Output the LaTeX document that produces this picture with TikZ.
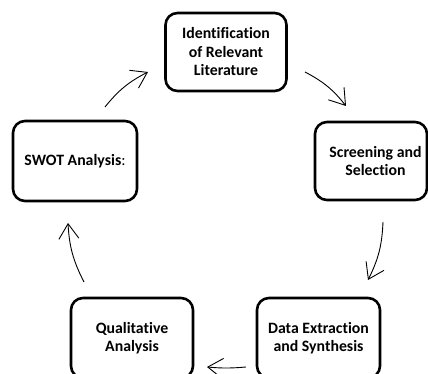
\documentclass[tikz,border=0pt]{standalone}
\usepackage{fontspec}
\setmainfont{Carlito}[Ligatures=NoCommon]
\usetikzlibrary{arrows.meta}
\tikzset{
  stage/.style={draw, line width=2.6pt, rounded corners=12pt, align=center,
    font=\fontsize{15.8}{18.5}\selectfont\bfseries, inner sep=0pt},
  cyc/.style={line width=0.9pt, -{Straight Barb[length=15pt,width=20pt,line width=0.9pt]}},
}
\begin{document}
\begin{tikzpicture}[x=1pt,y=1pt]
\useasboundingbox (0,0) rectangle (428,374);
\clip (0,0) rectangle (428,374);
\node[stage, minimum width=121pt, minimum height=78pt] (lit) at (226,322) {Identification\\of Relevant\\Literature};
\node[stage, minimum width=112pt, minimum height=78pt] (scr) at (371,213) {\hspace*{9pt}Screening and\\\hspace*{9pt}Selection};
\node[stage, minimum width=123pt, minimum height=80pt] (dat) at (318.5,36) {Data Extraction\\and Synthesis};
\node[stage, minimum width=122pt, minimum height=80pt] (qual) at (132,36) {Qualitative\\Analysis};
\node[stage, minimum width=124pt, minimum height=80pt] (swot) at (75,213) {SWOT Analysis\textmd{:}};
\coordinate (a1s) at (105,267); \coordinate (a1e) at (148,302);
\coordinate (a2s) at (305,302); \coordinate (a2e) at (346,268);
\coordinate (a3s) at (383,152); \coordinate (a3e) at (368,94);
\coordinate (a4s) at (246,7);   \coordinate (a4e) at (207,7);
\coordinate (a5s) at (84,92);   \coordinate (a5e) at (68,151);
\draw[cyc] (a1s) to[bend left=12] (a1e);
\draw[cyc] (a2s) to[bend left=12] (a2e);
\draw[cyc] (a3s) to[bend left=12] (a3e);
\draw[cyc] (a4s) to[bend left=5] (a4e);
\draw[cyc] (a5s) to[bend left=12] (a5e);
\end{tikzpicture}
\end{document}
